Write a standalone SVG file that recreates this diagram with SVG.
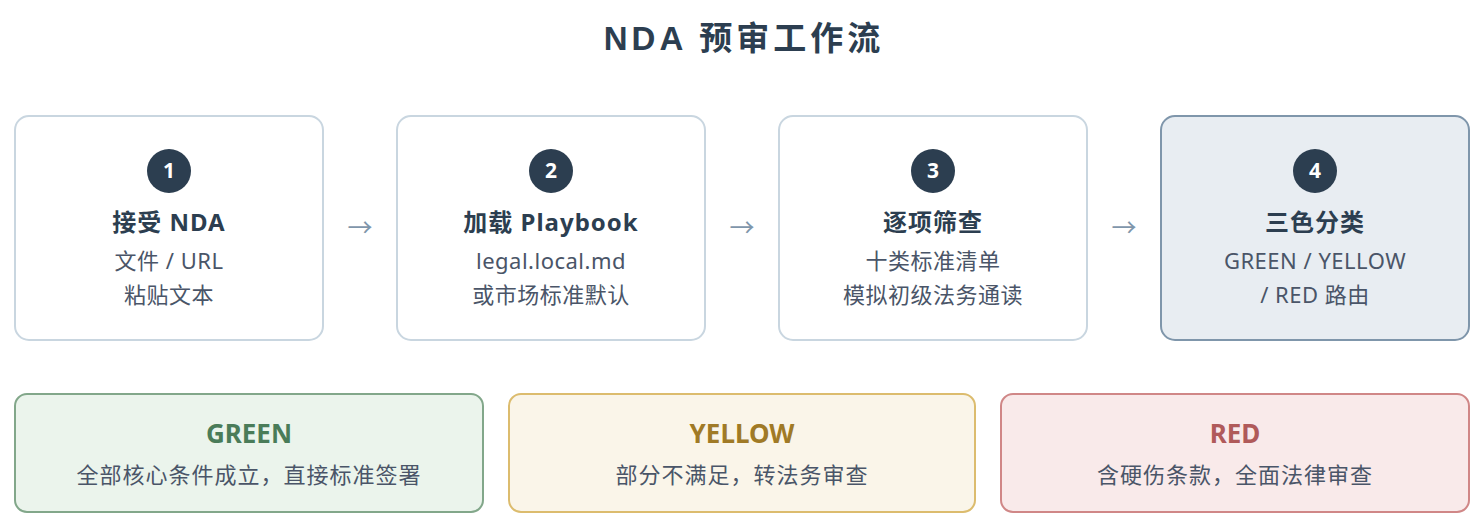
<svg xmlns="http://www.w3.org/2000/svg" width="1484" height="524" viewBox="0 0 1484 524">
<style>
.t{font-family:"Noto Sans","Noto Sans CJK SC",sans-serif;text-anchor:middle}
.title{font-size:33px;font-weight:700;fill:#2c3e50;font-family:"Liberation Sans","Noto Sans CJK SC",sans-serif;text-anchor:middle;letter-spacing:4px}
.box{fill:#ffffff;stroke:#c9d6e0;stroke-width:2}
.box4{fill:#e8edf2;stroke:#7f96ab;stroke-width:2}
.circ{fill:#2c3e50}
.num{font-size:21px;font-weight:700;fill:#ffffff}
.head{font-size:24px;font-weight:700;fill:#2c3e50;letter-spacing:1px}
.sub{font-size:22px;fill:#4a5568;letter-spacing:0.5px}
.bsub{font-size:22px;fill:#4a5568;letter-spacing:1px}
.arr{font-size:25px;fill:#7f96ab}
.g{fill:#ebf4ec;stroke:#82a78a;stroke-width:2}
.y{fill:#faf5e9;stroke:#dcbc6e;stroke-width:2}
.r{fill:#f9eaea;stroke:#d08787;stroke-width:2}
.gl{font-size:26px;font-weight:700;fill:#4a7c59}
.yl{font-size:26px;font-weight:700;fill:#a07a26}
.rl{font-size:26px;font-weight:700;fill:#b05a5a}
</style>
<rect width="1484" height="524" fill="#ffffff"/>
<text class="title" x="744" y="50">NDA 预审工作流</text>
<g id="connectors">
<text class="t arr" x="360" y="237">→</text>
<text class="t arr" x="742" y="237">→</text>
<text class="t arr" x="1124" y="237">→</text>
</g>
<g id="step1">
<rect class="box" x="15" y="116" width="308" height="224" rx="14"/>
<circle class="circ" cx="169" cy="171" r="22"/>
<text class="t num" x="169" y="178">1</text>
<text class="t head" x="169" y="231">接受 NDA</text>
<text class="t sub" x="169" y="269">文件 / URL</text>
<text class="t sub" x="169" y="303">粘贴文本</text>
</g>
<g id="step2">
<rect class="box" x="397" y="116" width="308" height="224" rx="14"/>
<circle class="circ" cx="551" cy="171" r="22"/>
<text class="t num" x="551" y="178">2</text>
<text class="t head" x="551" y="231">加载 Playbook</text>
<text class="t sub" x="551" y="269">legal.local.md</text>
<text class="t sub" x="551" y="303">或市场标准默认</text>
</g>
<g id="step3">
<rect class="box" x="779" y="116" width="308" height="224" rx="14"/>
<circle class="circ" cx="933" cy="171" r="22"/>
<text class="t num" x="933" y="178">3</text>
<text class="t head" x="933" y="231">逐项筛查</text>
<text class="t sub" x="933" y="269">十类标准清单</text>
<text class="t sub" x="933" y="303">模拟初级法务通读</text>
</g>
<g id="step4">
<rect class="box4" x="1161" y="116" width="308" height="224" rx="14"/>
<circle class="circ" cx="1315" cy="171" r="22"/>
<text class="t num" x="1315" y="178">4</text>
<text class="t head" x="1315" y="231">三色分类</text>
<text class="t sub" x="1315" y="269">GREEN / YELLOW</text>
<text class="t sub" x="1315" y="303">/ RED 路由</text>
</g>
<g id="green">
<rect class="g" x="15" y="394" width="468" height="118" rx="12"/>
<text class="t gl" x="249" y="443">GREEN</text>
<text class="t bsub" x="249" y="483">全部核心条件成立，直接标准签署</text>
</g>
<g id="yellow">
<rect class="y" x="509" y="394" width="466" height="118" rx="12"/>
<text class="t yl" x="742" y="443">YELLOW</text>
<text class="t bsub" x="742" y="483">部分不满足，转法务审查</text>
</g>
<g id="red">
<rect class="r" x="1001" y="394" width="468" height="118" rx="12"/>
<text class="t rl" x="1235" y="443">RED</text>
<text class="t bsub" x="1235" y="483">含硬伤条款，全面法律审查</text>
</g>
</svg>
